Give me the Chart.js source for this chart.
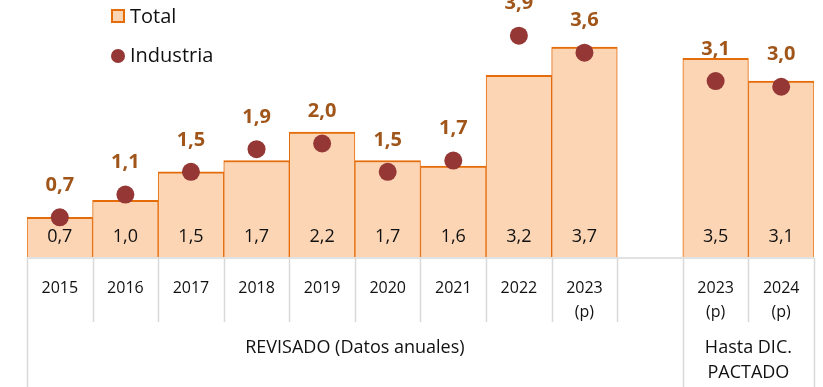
<!DOCTYPE html>
<html>
<head>
<meta charset="utf-8">
<script src="https://cdn.jsdelivr.net/npm/chart.js@4.4.1/dist/chart.umd.min.js"></script>
<style>
  body { margin: 0; background: #fff; }
  #wrap { width: 823px; height: 387px; position: relative; }
</style>
</head>
<body>
<div id="wrap"><canvas id="chart"></canvas></div>
<script>
// Categories (the empty one is the spacer between the two groups)
const categories = ['2015', '2016', '2017', '2018', '2019', '2020', '2021', '2022', ['2023', '(p)'], '', ['2023', '(p)'], ['2024', '(p)']];
const totalValues = [0.7, 1.0, 1.5, 1.7, 2.2, 1.7, 1.6, 3.2, 3.7, null, 3.5, 3.1];
const industriaValues = [0.7, 1.1, 1.5, 1.9, 2.0, 1.5, 1.7, 3.9, 3.6, null, 3.1, 3.0];
const seriesNames = ['Total', 'Industria'];
// group captions under the year row: [first index, last index, lines]
const groups = [
  [0, 9, ['REVISADO (Datos anuales)']],
  [10, 11, ['Hasta DIC.', 'PACTADO']]
];

const FONT = "'Open Sans', sans-serif";
const BAR_FILL = '#FCD5B5';
const BAR_LINE = '#E46C0A';
const DOT = '#953735';
const DOT_LABEL = '#A0561B';
const GRID = '#D9D9D9';

const fmt = v => v.toFixed(1).replace('.', ',');

// Value labels, table lines, group captions and legend
const decorations = {
  id: 'decorations',
  afterDatasetsDraw(chart) {
    const ctx = chart.ctx;
    const x = chart.scales.x;
    const area = chart.chartArea;
    const step = x.getPixelForValue(1) - x.getPixelForValue(0);
    const edge = i => x.getPixelForValue(i) - step / 2;

    ctx.save();
    // totals at the foot of each bar
    ctx.font = '18px ' + FONT;
    ctx.fillStyle = '#111';
    ctx.textAlign = 'center';
    ctx.textBaseline = 'middle';
    chart.getDatasetMeta(1).data.forEach((bar, i) => {
      if (totalValues[i] == null) return;
      ctx.fillText(fmt(totalValues[i]), bar.x, area.bottom - 20);
    });
    // industria values above the dots
    ctx.font = 'bold 20px ' + FONT;
    ctx.fillStyle = DOT_LABEL;
    chart.getDatasetMeta(0).data.forEach((pt, i) => {
      if (industriaValues[i] == null) return;
      ctx.fillText(fmt(industriaValues[i]), pt.x, pt.y - 32);
    });

    // table lines
    ctx.strokeStyle = GRID;
    ctx.lineWidth = 1.5;
    const top = area.bottom + 1;
    ctx.beginPath();
    ctx.moveTo(edge(0), top);
    ctx.lineTo(edge(categories.length), top);
    for (let i = 0; i <= categories.length; i++) {
      const full = i === 0 || i === 10 || i === categories.length;
      ctx.moveTo(Math.round(edge(i)) + 0.5, top);
      ctx.lineTo(Math.round(edge(i)) + 0.5, full ? chart.height : 322);
    }
    ctx.stroke();

    // group captions
    ctx.font = '18px ' + FONT;
    ctx.fillStyle = '#111';
    groups.forEach(([a, b, lines]) => {
      const cx = (edge(a) + edge(b + 1)) / 2;
      lines.forEach((t, k) => ctx.fillText(t, cx, 348 + k * 25));
    });

    // legend
    ctx.textAlign = 'left';
    ctx.font = '20px ' + FONT;
    ctx.fillStyle = BAR_FILL;
    ctx.fillRect(112, 10, 12, 12);
    ctx.strokeStyle = BAR_LINE;
    ctx.lineWidth = 2;
    ctx.strokeRect(112, 10, 12, 12);
    ctx.fillStyle = '#111';
    ctx.fillText(seriesNames[0], 130, 17);
    ctx.fillStyle = DOT;
    ctx.beginPath();
    ctx.arc(118, 56, 7, 0, Math.PI * 2);
    ctx.fill();
    ctx.fillStyle = '#111';
    ctx.fillText(seriesNames[1], 130, 56);
    ctx.restore();
  }
};

new Chart(document.getElementById('chart'), {
  type: 'bar',
  data: {
    labels: categories,
    datasets: [
      {
        type: 'line',
        label: seriesNames[1],
        data: industriaValues,
        showLine: false,
        pointRadius: 9,
        pointHoverRadius: 9,
        pointBorderWidth: 0,
        pointBackgroundColor: DOT,
        order: 0
      },
      {
        label: seriesNames[0],
        data: totalValues,
        backgroundColor: BAR_FILL,
        borderColor: BAR_LINE,
        borderWidth: { top: 2, left: 1, right: 1, bottom: 0 },
        borderSkipped: false,
        barPercentage: 1,
        categoryPercentage: 1,
        order: 1
      }
    ]
  },
  options: {
    responsive: true,
    maintainAspectRatio: false,
    devicePixelRatio: 1,
    animation: false,
    layout: { padding: { left: 27, right: 9, top: 0, bottom: 0 } },
    plugins: { legend: { display: false }, tooltip: { enabled: false } },
    scales: {
      x: {
        grid: { display: false, drawTicks: false },
        border: { display: false },
        ticks: {
          color: '#111',
          font: { family: FONT, size: 16, lineHeight: 1.5 },
          padding: 19,
          maxRotation: 0,
          autoSkip: false
        },
        afterFit(scale) { scale.height = 130; }
      },
      y: {
        display: false,
        min: 0,
        max: 4.37
      }
    }
  },
  plugins: [decorations]
});
</script>
</body>
</html>
